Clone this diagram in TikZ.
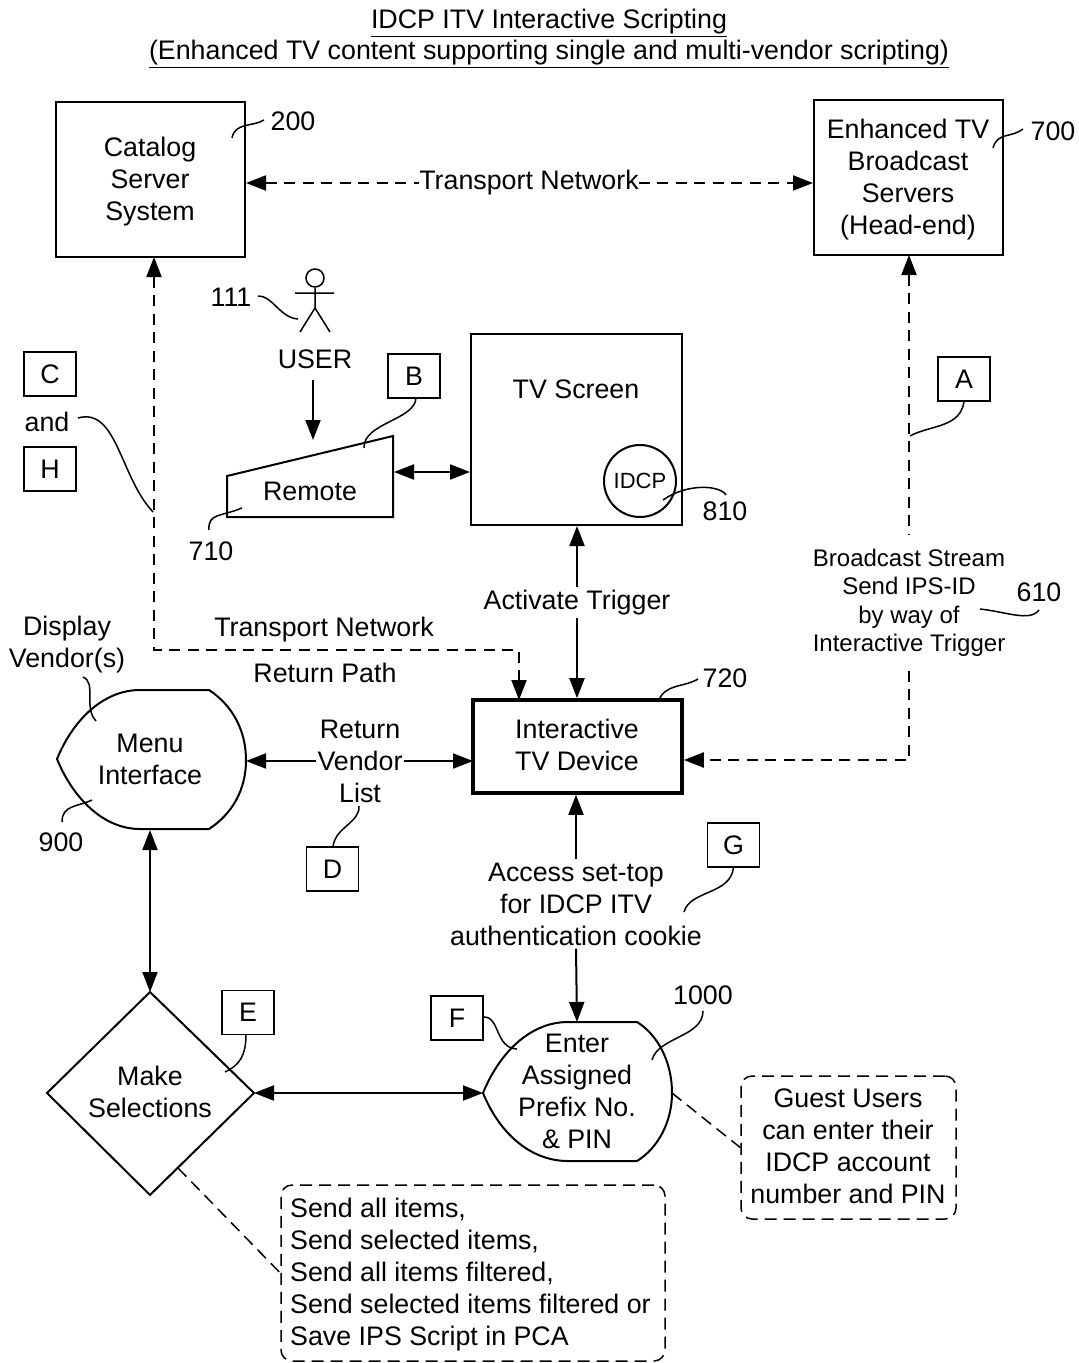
\documentclass[tikz,border=0pt]{standalone}
\usepackage{fontspec}
\setmainfont{Liberation Sans}
\usetikzlibrary{arrows.meta,shapes.geometric}
\tikzset{
  lbl/.style={font=\fontsize{26.8}{32}\selectfont,align=center,inner sep=1pt},
  small/.style={font=\fontsize{24}{28.5}\selectfont,align=center,inner sep=1pt},
  box/.style={draw,line width=2pt,inner sep=0pt},
  letter/.style={draw,line width=1.6pt,minimum width=52pt,minimum height=44pt,inner sep=0pt,font=\fontsize{26.8}{30}\selectfont},
  tip/.tip={Triangle[length=20pt,width=15pt]},
  arr/.style={line width=2pt,-tip},
  darr/.style={line width=2pt,tip-tip},
  dsh/.style={line width=2pt,dash pattern=on 11pt off 7.5pt},
  lead/.style={line width=1.5pt},
  dline/.style={line width=1.5pt,dash pattern=on 12pt off 7pt},
}
\begin{document}
\begin{tikzpicture}[x=1pt,y=-1pt,line join=miter]
\useasboundingbox (0,0) rectangle (1079,1363);
% title
\node[lbl] (t1) at (549,23) {\underline{IDCP ITV Interactive Scripting}};
\node[lbl] (t2) at (549,54) {\underline{(Enhanced TV content supporting single and multi-vendor scripting)}};
% boxes
\node[box,minimum width=189pt,minimum height=155pt] (cat) at (150.5,179.5) {};
\node[lbl] (catt) at (150,181.5) {Catalog\\Server\\System};
\node[box,minimum width=189pt,minimum height=155pt] (enh) at (908.5,177.5) {};
\node[lbl] (enht) at (908,180) {Enhanced TV\\Broadcast\\Servers\\(Head-end)};
\node[box,minimum width=211pt,minimum height=191pt] (tv) at (576.5,429.5) {};
\node[lbl] (tvt) at (576,389) {TV Screen};
\node[box,circle,minimum size=72pt] (idcp) at (640,481) {};
\node[font=\fontsize{22}{26}\selectfont] (idcpt) at (640,481) {IDCP};
\node[box,line width=3.6pt,minimum width=209pt,minimum height=93pt] (itv) at (577.5,746.5) {};
\node[lbl] (itvt) at (577,744.5) {Interactive\\TV Device};
% remote
\coordinate (r1) at (227,476);\coordinate (r2) at (393,436);\coordinate (r3) at (393,517);\coordinate (r4) at (227,517);
\draw[line width=2pt] (r1)--(r2)--(r3)--(r4)--cycle;
\node[lbl] (remt) at (310,491.5) {Remote};
\coordinate (remR) at (394,472);
\coordinate (remT) at (313,440);
\coordinate (userS) at (313,380);
% menu
\coordinate (mL) at (57,759);\coordinate (mR) at (246,760);
\draw[line width=2pt] (mL) .. controls (72,722) and (102,690) .. (140,690) -- (209,690)
  .. controls (232,705) and (246,730) .. (mR) .. controls (246,790) and (232,814) .. (209,829) -- (140,829)
  .. controls (102,829) and (72,796) .. (mL) -- cycle;
\node[lbl] (mt) at (150,759) {Menu\\Interface};
\coordinate (mB) at (150,830);
% enter
\coordinate (eL) at (483,1093);\coordinate (eR) at (672,1093);
\draw[line width=2pt] (eL) .. controls (498,1056) and (528,1022) .. (568,1022) -- (637,1022)
  .. controls (658,1035) and (672,1062) .. (eR) .. controls (672,1122) and (658,1148) .. (637,1161) -- (568,1161)
  .. controls (528,1161) and (498,1130) .. (eL) -- cycle;
\node[lbl] (et) at (577,1091) {Enter\\Assigned\\Prefix No.\\\& PIN};
\coordinate (eT) at (577,1022);
% diamond
\coordinate (dT) at (150,992);\coordinate (dR) at (254,1093);\coordinate (dB) at (150,1195);\coordinate (dL) at (47,1093);
\draw[line width=2pt] (dT)--(dR)--(dB)--(dL)--cycle;
\node[lbl] (dt) at (150,1092) {Make\\Selections};
% dashed notes
\node[draw,dline,rounded corners=11pt,minimum width=215pt,minimum height=143pt] (guest) at (848.5,1147.5) {};
\node[lbl] (gt) at (848,1146) {Guest Users\\can enter their\\IDCP account\\number and PIN};
\node[draw,dline,rounded corners=11pt,minimum width=384pt,minimum height=176pt] (send) at (473,1273) {};
\node[lbl,align=left,anchor=west] (st) at (289,1275) {Send all items,\\Send selected items,\\Send all items filtered,\\Send selected items filtered or\\Save IPS Script in PCA};
% letters
\node[letter] (C) at (50,374) {C};
\node[letter] (H) at (50,469) {H};
\node[lbl] (and) at (47,422) {and};
\node[letter] (B) at (414,376) {B};
\node[letter] (A) at (964,379) {A};
\node[letter] (D) at (332.5,869) {D};
\node[letter] (G) at (733.5,845) {G};
\node[letter] (E) at (248,1012.5) {E};
\node[letter] (F) at (457,1018) {F};
% numbers
\node[lbl] (n200) at (293,121) {200};
\node[lbl] (n700) at (1053,131) {700};
\node[lbl] (n111) at (231,297) {111};
\node[lbl] (n810) at (725,511) {810};
\node[lbl] (n710) at (211,551) {710};
\node[lbl] (n720) at (725,678) {720};
\node[lbl] (n610) at (1039,592) {610};
\node[lbl] (n900) at (61,842) {900};
\node[lbl] (n1000) at (703,995) {1000};
\node[lbl] (user) at (315,359) {USER};
\node[lbl] (disp) at (67,645) {Display\\Vendor(s)};
% stick figure
\node[draw,circle,line width=1.5pt,minimum size=18pt,inner sep=0pt] (head) at (315,278) {};
\coordinate (hip) at (315,308);\coordinate (al) at (295,293);\coordinate (ar) at (334,293);
\coordinate (ll) at (300,332);\coordinate (lr) at (330,332);
\draw[line width=1.5pt] (head.south)--(hip) (al)--(ar) (ll)--(hip)--(lr);
% connectors
\node[lbl,fill=white,inner sep=0pt] (tn) at (529,183) {Transport Network};
\draw[dsh,tip-] (cat.east|-tn)--(tn.west);
\draw[dsh,-tip] (tn.east)--(enh.west|-tn);
\coordinate (cA) at (154,257);\coordinate (c1) at (154,650);\coordinate (c2) at (519,650);\coordinate (c3) at (519,700);
\draw[dsh,tip-tip] (cA)--(c1)--(c2)--(c3);
\node[lbl] (tn2) at (324,630) {Transport Network};
\node[lbl] (rp) at (325,673) {Return Path};
\draw[arr] (userS)--(remT);
\draw[darr] (remR)--(tv.west|-remR);
\node[lbl,fill=white,inner sep=3pt] (at) at (577,602.5) {Activate Trigger};
\draw[arr] (at.north)--(tv.south-|at);
\draw[arr] (at.south)--(itv.north-|at);
\coordinate (bs0) at (909,255);
\node[small,outer ysep=13pt] (bs) at (909,603) {Broadcast Stream\\Send IPS-ID\\by way of\\Interactive Trigger};
\coordinate (b1) at (909,760);
\draw[dsh,tip-] (bs0)--(bs.north-|bs0);
\draw[dsh,-tip] (bs.south-|bs0)--(b1)--(itv.east|-b1);
\node[lbl] (rv) at (360,761) {Return\\Vendor\\List};
\coordinate (m1) at (246,761);\coordinate (i1) at (473,761);
\draw[line width=2pt,tip-] (m1)--(rv.west|-m1);
\draw[line width=2pt,-tip] (rv.east|-m1)--(i1);
\draw[darr] (mB)--(dT);
\draw[darr] (dR)--(eL);
\node[lbl,fill=white,inner sep=3pt] (ac) at (576,904) {Access set-top\\for IDCP ITV\\authentication cookie};
\draw[arr] (ac.north)--(itv.south-|ac);
\draw[arr] (ac.south)--(eT);
% leaders
\draw[lead] (232,138) .. controls (235,122) and (253,127) .. (264,120);
\draw[lead] (993,148) .. controls (997,132) and (1012,138) .. (1023,129);
\draw[lead] (258,296) .. controls (272,295) and (280,318) .. (298,319);
\draw[lead] (416,398) .. controls (415,420) and (363,423) .. (364,448);
\draw[lead] (910,436) .. controls (930,425) and (960,428) .. (A.south);
\draw[lead] (78,418) .. controls (117,407) and (120,477) .. (153,512);
\draw[lead] (209,530) .. controls (208,513) and (220,517) .. (242,508);
\draw[lead] (663,500) .. controls (687,483) and (720,485) .. (726,495);
\draw[lead] (658,702) .. controls (665,683) and (683,688) .. (698,679);
\draw[lead] (980,609) .. controls (1007,612) and (1030,622) .. (1039,610);
\draw[lead] (83,677) .. controls (97,683) and (83,707) .. (96,721);
\draw[lead] (62,822) .. controls (62,805) and (77,807) .. (92,800);
\draw[lead] (333,847) .. controls (335,827) and (360,823) .. (359,806);
\draw[lead] (684,912) .. controls (690,890) and (730,895) .. (G.south);
\draw[lead] (225,1072) .. controls (240,1065) and (246,1055) .. (246,1034);
\draw[lead] (484,1017) .. controls (500,1017) and (495,1048) .. (517,1049);
\draw[lead] (652,1060) .. controls (658,1037) and (703,1037) .. (703,1011);
\draw[dline] (eR)--(guest.west);
\draw[dline] (178,1168)--(send.west);
\end{tikzpicture}
\end{document}
